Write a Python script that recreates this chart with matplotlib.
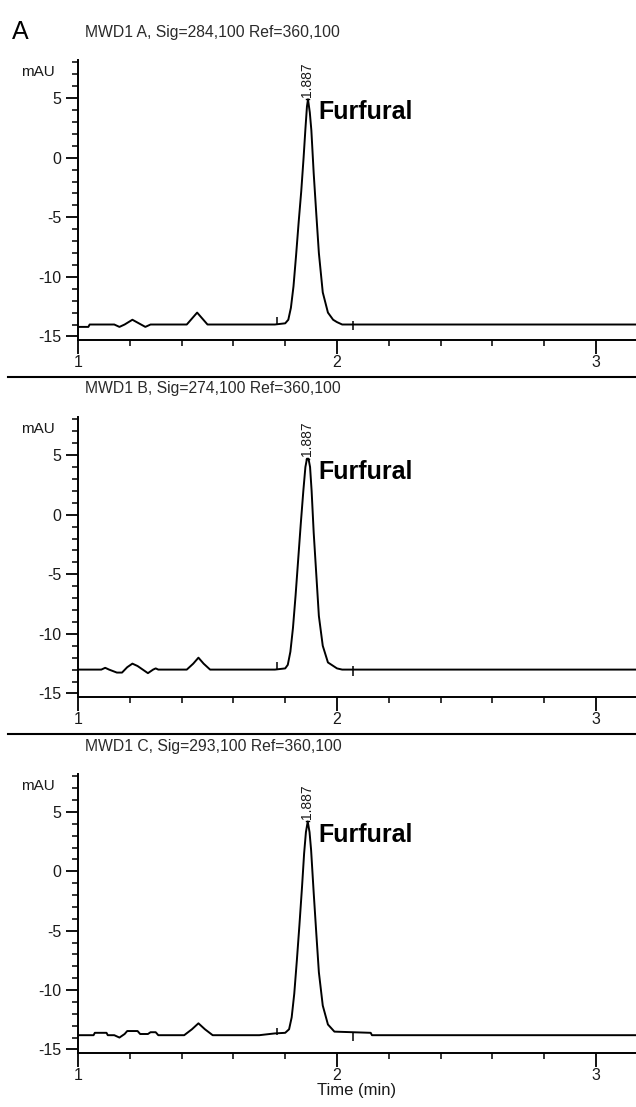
import matplotlib.pyplot as plt
from matplotlib.lines import Line2D
from matplotlib.ticker import MultipleLocator

plt.rcParams['font.family'] = ['Liberation Sans', 'DejaVu Sans']
plt.rcParams['axes.unicode_minus'] = False

# chromatogram traces (time in min, signal in mAU)
tA = [1.00, 1.04, 1.045, 1.14, 1.16, 1.18, 1.21, 1.235, 1.26, 1.28, 1.42, 1.46, 1.50,
      1.76, 1.80, 1.812, 1.822, 1.832, 1.842, 1.852, 1.862, 1.871, 1.878, 1.884, 1.888,
      1.895, 1.901, 1.91, 1.92, 1.93, 1.945, 1.965, 1.985, 2.0, 2.02, 3.2]
yA = [-14.2, -14.2, -14.0, -14.0, -14.2, -14.0, -13.6, -13.9, -14.2, -14.0, -14.0, -13.0, -14.0,
      -14.0, -13.9, -13.6, -12.6, -10.8, -8.2, -5.4, -2.8, 0.0, 2.4, 4.3, 4.9,
      3.8, 2.3, -1.3, -4.7, -8.0, -11.3, -13.0, -13.6, -13.8, -14.0, -14.0]

tB = [1.00, 1.09, 1.105, 1.12, 1.15, 1.17, 1.19, 1.21, 1.23, 1.25, 1.27, 1.29, 1.30, 1.31,
      1.42, 1.445, 1.465, 1.485, 1.51, 1.76, 1.80, 1.81, 1.82, 1.83, 1.84, 1.85, 1.86, 1.87,
      1.878, 1.884, 1.890, 1.896, 1.902, 1.91, 1.92, 1.93, 1.945, 1.965, 2.0, 2.02, 3.2]
yB = [-13.0, -13.0, -12.85, -13.0, -13.25, -13.25, -12.8, -12.5, -12.7, -13.0, -13.3, -13.0, -12.9, -13.0,
      -13.0, -12.5, -12.0, -12.5, -13.0, -13.0, -12.9, -12.6, -11.5, -9.5, -6.8, -3.8, -0.8, 2.0,
      4.0, 4.7, 4.7, 4.0, 2.0, -1.5, -5.0, -8.5, -11.0, -12.4, -12.9, -13.0, -13.0]

tC = [1.00, 1.06, 1.065, 1.11, 1.115, 1.14, 1.16, 1.18, 1.19, 1.23, 1.24, 1.27, 1.28, 1.30, 1.31,
      1.41, 1.44, 1.465, 1.49, 1.52, 1.70, 1.76, 1.80, 1.815, 1.825, 1.835, 1.845, 1.855, 1.865,
      1.873, 1.88, 1.887, 1.894, 1.90, 1.91, 1.92, 1.93, 1.945, 1.965, 1.99, 2.13, 2.135, 3.2]
yC = [-13.8, -13.8, -13.6, -13.6, -13.8, -13.8, -14.0, -13.7, -13.45, -13.45, -13.7, -13.7, -13.55, -13.55, -13.8,
      -13.8, -13.3, -12.8, -13.3, -13.8, -13.8, -13.65, -13.6, -13.3, -12.3, -10.3, -7.5, -4.5, -1.3,
      1.5, 3.3, 4.2, 3.3, 1.8, -1.8, -5.2, -8.5, -11.3, -12.9, -13.5, -13.6, -13.8, -13.8]

titles = ['MWD1 A, Sig=284,100 Ref=360,100',
          'MWD1 B, Sig=274,100 Ref=360,100',
          'MWD1 C, Sig=293,100 Ref=360,100']
traces = [(tA, yA), (tB, yB), (tC, yC)]
baselines = [-14.0, -13.0, -13.8]
apex_time = 1.887
apex_height = [4.9, 4.7, 4.2]
event_marks = [1.77, 2.06]
peak_name = 'Furfural'
yticks = [-15, -10, -5, 0, 5]
xticks = [1, 2, 3]

W, H = 636, 1107
fig = plt.figure(figsize=(W / 100, H / 100), dpi=100)
ink = '#1a1a1a'

tops = [60, 417, 774]
bottoms = [340, 697, 1053]
left = 78

for i in range(3):
    ax = fig.add_axes([left / W, 1 - bottoms[i] / H, 1 - left / W, (bottoms[i] - tops[i]) / H])
    t, y = traces[i]
    ax.plot(t, y, color='black', lw=1.4)
    # integration event ticks
    b = baselines[i]
    ax.vlines(event_marks[0], b, b + 0.6, color='black', lw=1.1)
    ax.vlines(event_marks[1], b - 0.5, b + 0.3, color='black', lw=1.1)
    # apex marker and retention time
    ax.plot([apex_time - 0.006, apex_time + 0.006], [apex_height[i], apex_height[i]], color='black', lw=1.0)
    ax.text(apex_time - 0.004, apex_height[i] + 0.2, '1.887', rotation=90, ha='center', va='bottom',
            fontsize=10, color=ink)
    ax.text(1.927, apex_height[i] - 1.1, peak_name, fontsize=18, fontweight='bold',
            ha='left', va='center', color='black')

    ax.set_xlim(1, 1 + (W - left) / 259)
    ax.set_ylim(-15.3, 8.2)
    ax.spines['top'].set_visible(False)
    ax.spines['right'].set_visible(False)
    ax.spines['left'].set_linewidth(1.4)
    ax.spines['bottom'].set_linewidth(1.4)
    ax.set_yticks(yticks)
    ax.set_xticks(xticks)
    ax.yaxis.set_minor_locator(MultipleLocator(1))
    ax.xaxis.set_minor_locator(MultipleLocator(0.2))
    ax.tick_params(axis='y', which='major', length=9, width=1.3, pad=3, labelsize=11.5, labelcolor=ink)
    ax.tick_params(axis='y', which='minor', length=4, width=1.1)
    ax.tick_params(axis='x', which='major', length=10, width=1.3, pad=1, labelsize=11.5, labelcolor=ink)
    ax.tick_params(axis='x', which='minor', length=4, width=1.1)
    ax.patch.set_visible(False)

    fig.text(85 / W, 1 - (tops[i] - 28) / H, titles[i], fontsize=11.3, color='#2a2a2a',
             ha='left', va='center')
    fig.text(55 / W, 1 - (tops[i] + 12) / H, 'mAU', fontsize=11, color=ink, ha='right', va='center')
    if i == 2:
        ax.set_xlabel('Time (min)', fontsize=12, color=ink, labelpad=0)

fig.text(12 / W, 1 - 32 / H, 'A', fontsize=18, ha='left', va='center', color='black')

# separators between the panels
for ysep in [377, 734]:
    fig.add_artist(Line2D([8 / W, 1], [1 - ysep / H, 1 - ysep / H], color='black', lw=1.5))

fig.savefig('out.png', dpi=100)
